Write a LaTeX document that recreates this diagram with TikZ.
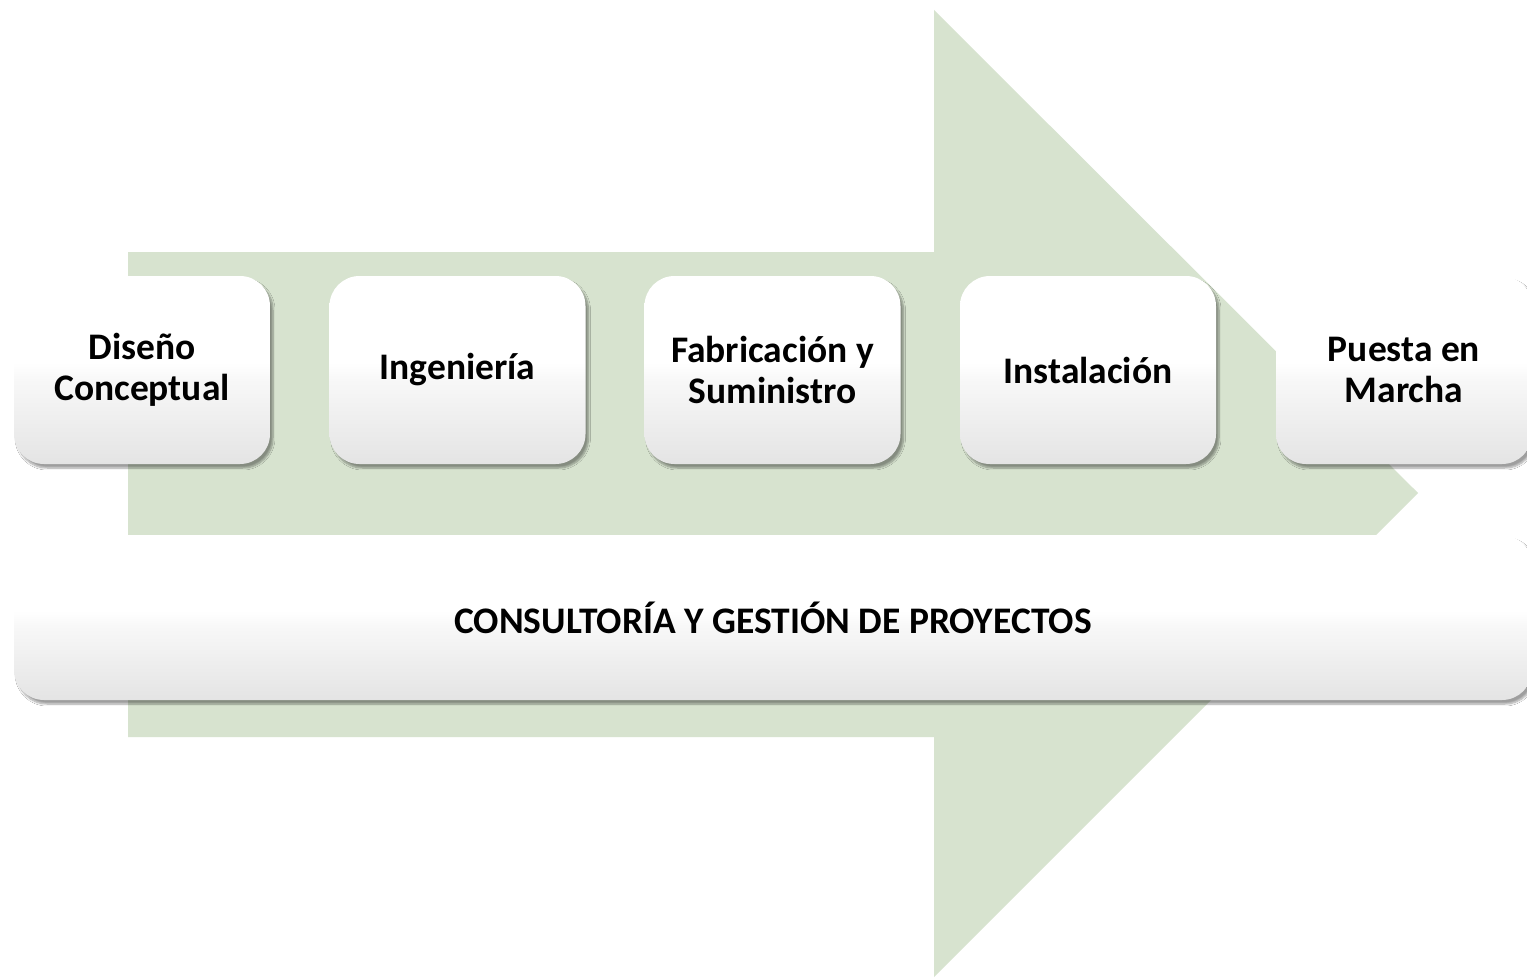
\documentclass[tikz,border=0pt]{standalone}
\usepackage{fontspec}
\setmainfont{Carlito}
\usetikzlibrary{shadows,shadows.blur}
\definecolor{arrowgreen}{RGB}{215,227,207}
\definecolor{boxgray}{RGB}{228,228,228}
\pgfdeclareverticalshading{boxshade}{100bp}{color(0bp)=(boxgray); color(25bp)=(boxgray); color(47bp)=(white!97!black); color(52bp)=(white); color(100bp)=(white)}
\begin{document}
\begin{tikzpicture}[x=1pt,y=-1pt,
  stagebox/.style={rectangle, rounded corners=30pt, minimum width=256pt, minimum height=188pt,
    shading=boxshade, draw=none, align=center,
    font=\bfseries\fontsize{37.5}{41}\selectfont,
    blur shadow={shadow xshift=3pt, shadow yshift=-4pt, shadow blur steps=8, shadow blur extra rounding=2pt, shadow opacity=38}},
  mgmtbox/.style={stagebox, minimum width=1518pt, minimum height=165pt}]
\useasboundingbox (0,0) rectangle (1527,979);
\fill[white] (0,0) rectangle (1527,979);
% big arrow
\fill[arrowgreen] (128,252) -- (934,252) -- (934,10) -- (1418,493) -- (934,977) -- (934,737) -- (128,737) -- cycle;
% stage boxes
\node[stagebox] (s1) at (142,370) {Diseño\\Conceptual};
\node[stagebox] (s2) at (457.5,370) {Ingeniería};
\node[stagebox] (s3) at (772.5,370) {Fabricación y\\Suministro};
\node[stagebox] (s4) at (1088,370) {Instalación};
\node[stagebox] (s5) at (1404,370) {Puesta en\\Marcha};
% management bar
\node[mgmtbox] (m) at (773,617.5) {CONSULTORÍA Y GESTIÓN DE PROYECTOS};
\end{tikzpicture}
\end{document}
